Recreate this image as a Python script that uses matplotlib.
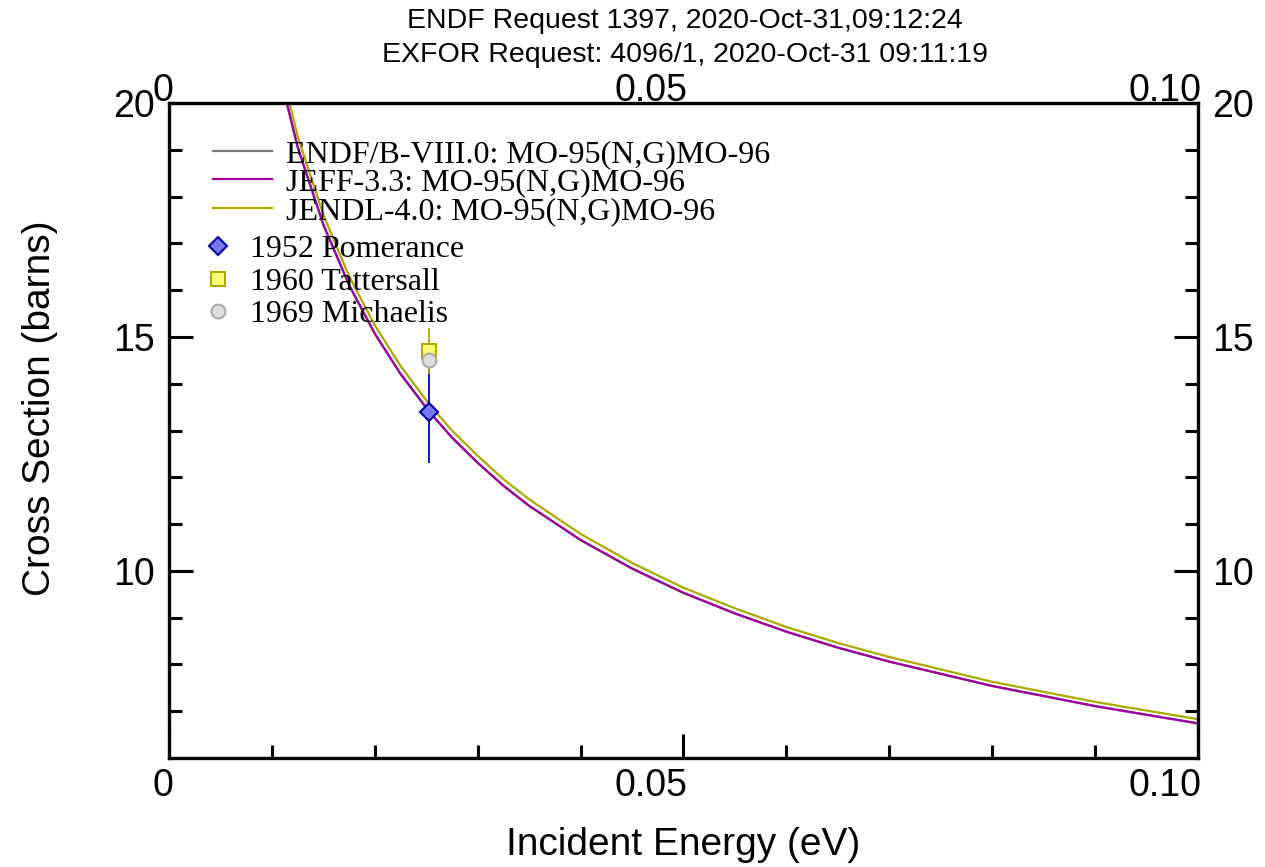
import matplotlib.pyplot as plt
import matplotlib.transforms as mtransforms
import numpy as np
from matplotlib.lines import Line2D

# Evaluated data, MO-95(N,G)MO-96, thermal region
energia = [0.010, 0.0125, 0.015, 0.0175, 0.020, 0.0225, 0.0253, 0.0275, 0.030,
           0.0325, 0.035, 0.040, 0.045, 0.050, 0.055, 0.060, 0.065, 0.070,
           0.080, 0.090, 0.100]
sig_endf = [21.30, 19.06, 17.40, 16.11, 15.07, 14.21, 13.40, 12.85, 12.31,
            11.82, 11.39, 10.66, 10.05, 9.53, 9.09, 8.70, 8.36, 8.06,
            7.54, 7.11, 6.74]
sig_jeff = [21.30, 19.06, 17.40, 16.11, 15.07, 14.21, 13.40, 12.85, 12.31,
            11.82, 11.39, 10.66, 10.05, 9.53, 9.09, 8.70, 8.36, 8.06,
            7.54, 7.11, 6.74]
sig_jendl = [21.55, 19.29, 17.61, 16.30, 15.25, 14.38, 13.56, 13.00, 12.46,
             11.96, 11.53, 10.79, 10.17, 9.64, 9.20, 8.80, 8.46, 8.16,
             7.63, 7.20, 6.83]

# EXFOR points (E, sigma, dsigma)
pomerance = (0.0253, 13.4, 1.1)
tattersall = (0.0253, 14.7, 0.5)
michaelis = (0.0253, 14.5, 0.0)

xticks = [0, 0.05, 0.1]
xticklabels = ['0', '0.05', '0.10']
yticks = [10, 15, 20]
yticklabels = ['10', '15', '20']

sans = 'Liberation Sans'
fig = plt.figure(figsize=(12.65, 8.67), dpi=100)
ax = fig.add_axes([0.1336, 0.1257, 0.8134, 0.7555])

ax.plot(energia, sig_endf, color='#777777', lw=1.6)
ax.plot(energia, sig_jeff, color='#a000a0', lw=1.6)
ax.plot(energia, sig_jendl, color='#aaaa00', lw=1.6)

ax.errorbar(pomerance[0], pomerance[1], yerr=pomerance[2], fmt='D', ms=9,
            mfc='#7777ee', mec='#0000aa', mew=1.5, ecolor='#0000bb', elinewidth=1.3,
            capsize=0, zorder=5)
ax.errorbar(tattersall[0], tattersall[1], yerr=tattersall[2], fmt='s', ms=10,
            mfc='#ffff77', mec='#aaaa00', mew=1.5, ecolor='#aaaa00', elinewidth=1.3,
            capsize=0, zorder=6)
ax.plot(michaelis[0], michaelis[1], 'o', ms=10, mfc='#dddddd', mec='#aaaaaa',
        mew=1.5, zorder=7)

ax.set_xlim(0, 0.1)
ax.set_ylim(6.0, 20)

ax.set_xticks(xticks)
ax.set_xticklabels(xticklabels)
ax.set_xticks(np.arange(0.01, 0.1, 0.01), minor=True)
ax.set_yticks(yticks)
ax.set_yticklabels(yticklabels)
ax.set_yticks(np.arange(7, 20, 1), minor=True)

ax.tick_params(which='both', direction='in', top=True, right=True,
               labelright=True, width=2.2, colors='black')
ax.tick_params(which='major', length=17, labelsize=27, labelfontfamily=sans)
ax.tick_params(axis='x', which='major', pad=7)
ax.tick_params(axis='y', which='major', pad=10)
ax.tick_params(which='minor', length=9.5)
for s in ax.spines.values():
    s.set_linewidth(2.4)

# top axis labels sit closer to the frame
top = ax.twiny()
top.set_xlim(ax.get_xlim())
top.set_xticks(xticks)
top.set_xticklabels(xticklabels)
top.tick_params(direction='in', length=0, labelsize=27, labelfontfamily=sans, pad=-4)
for s in top.spines.values():
    s.set_visible(False)

# energy labels end just right of their tick
shift = mtransforms.ScaledTranslation(4 / 100, 0, fig.dpi_scale_trans)
for lab in ax.get_xticklabels() + top.get_xticklabels():
    lab.set_ha('right')
    lab.set_transform(lab.get_transform() + shift)

ax.set_xlabel('Incident Energy (eV)', fontsize=28, family=sans, labelpad=17)
ax.set_ylabel('Cross Section (barns)', fontsize=28, family=sans)
ax.yaxis.set_label_coords(-0.108, 0.534)

fig.text(0.5415, 0.976, 'ENDF Request 1397, 2020-Oct-31,09:12:24', ha='center', va='center',
         fontsize=20.5, family=sans)
fig.text(0.5415, 0.936, 'EXFOR Request: 4096/1, 2020-Oct-31 09:11:19', ha='center', va='center',
         fontsize=20.5, family=sans)

# two legends: evaluations with line keys, measurements with marker keys
serif = {'family': 'Liberation Serif', 'size': 23}
lin_handles = [Line2D([], [], color='#777777', lw=1.6),
               Line2D([], [], color='#a000a0', lw=1.6),
               Line2D([], [], color='#aaaa00', lw=1.6)]
lin_labels = ['ENDF/B-VIII.0: MO-95(N,G)MO-96', 'JEFF-3.3: MO-95(N,G)MO-96',
              'JENDL-4.0: MO-95(N,G)MO-96']
leg1 = ax.legend(lin_handles, lin_labels, loc='upper left', bbox_to_anchor=(0.168, 0.839),
                 bbox_transform=fig.transFigure, frameon=False, prop=serif,
                 handlelength=1.85, handletextpad=0.45, labelspacing=-0.02,
                 borderpad=0, borderaxespad=0)
ax.add_artist(leg1)

mk_handles = [Line2D([], [], ls='', marker='D', ms=9, mfc='#7777ee', mec='#0000aa', mew=1.5),
              Line2D([], [], ls='', marker='s', ms=10, mfc='#ffff77', mec='#aaaa00', mew=1.5),
              Line2D([], [], ls='', marker='o', ms=10, mfc='#dddddd', mec='#aaaaaa', mew=1.5)]
mk_labels = ['1952 Pomerance', '1960 Tattersall', '1969 Michaelis']
ax.legend(mk_handles, mk_labels, loc='upper left', bbox_to_anchor=(0.165, 0.729),
          bbox_transform=fig.transFigure, frameon=False, prop=serif,
          handlelength=0.6, handletextpad=0.7, labelspacing=0.1,
          borderpad=0, borderaxespad=0)

fig.savefig('out.png', dpi=100)
